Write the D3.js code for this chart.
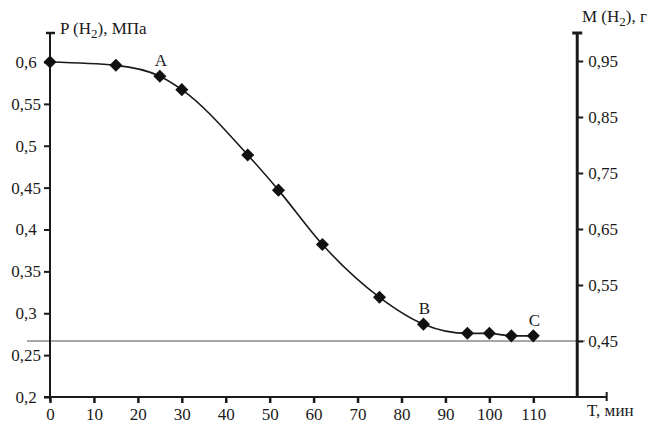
<!DOCTYPE html>
<html><head><meta charset="utf-8">
<script src="https://cdn.jsdelivr.net/npm/d3@7/dist/d3.min.js"></script>
<style>
html,body{margin:0;padding:0;background:#fff;}
</style></head>
<body><svg id="c" width="650" height="428"></svg>
<script>
// ---- data ----
const times = [0, 15, 25, 30, 45, 52, 62, 75, 85, 95, 100, 105, 110];
const pressure = [0.600, 0.596, 0.583, 0.567, 0.489, 0.447, 0.382, 0.319, 0.287, 0.276, 0.276, 0.273, 0.273];
const pointLabels = [{t: 25, text: "A"}, {t: 85, text: "B"}, {t: 110, text: "C"}];
const xTicks = [0, 10, 20, 30, 40, 50, 60, 70, 80, 90, 100, 110];
const leftTicks = [0.2, 0.25, 0.3, 0.35, 0.4, 0.45, 0.5, 0.55, 0.6];
const rightTicks = [0.45, 0.55, 0.65, 0.75, 0.85, 0.95];
const refMass = 0.45;
const leftTitle = ["P (H", "2", "), МПа"];
const rightTitle = ["M (H", "2", "), г"];
const xTitle = "T, мин";

const FONT = "'Liberation Serif', 'Times New Roman', 'DejaVu Serif', serif";
const FS = 17;
const svg = d3.select("#c");
const x = d3.scaleLinear().domain([0, 110]).range([50, 533.3]);
const yL = d3.scaleLinear().domain([0.2, 0.6]).range([397, 62]);
const yR = d3.scaleLinear().domain([0.35, 1.0]).range([397, 33]);
const fmt = d => String(+d.toFixed(2)).replace(".", ",");
const ink = "#1a1a1a";

// reference horizontal line
svg.append("line").attr("x1", 27).attr("x2", 585)
  .attr("y1", yR(refMass)).attr("y2", yR(refMass))
  .attr("stroke", "#8a8a8a").attr("stroke-width", 1.5);

// left axis
const gL = svg.append("g").attr("transform", `translate(${x(0)},0)`)
  .call(d3.axisLeft(yL).tickValues(leftTicks).tickSize(6).tickFormat(fmt));
gL.select(".domain").remove();
gL.selectAll(".tick line").attr("stroke", ink).attr("stroke-width", 2);
gL.selectAll(".tick text").attr("x", -24).attr("text-anchor", "middle");
svg.append("line").attr("x1", x(0)).attr("x2", x(0)).attr("y1", yR(1.0)).attr("y2", 401)
  .attr("stroke", ink).attr("stroke-width", 2);
svg.append("line").attr("x1", x(0) - 4).attr("x2", x(0) + 5).attr("y1", yR(1.0)).attr("y2", yR(1.0))
  .attr("stroke", ink).attr("stroke-width", 2.5);

// right axis
const xr = x(120);
const gR = svg.append("g").attr("transform", `translate(${xr},0)`)
  .call(d3.axisRight(yR).tickValues(rightTicks).tickSize(6).tickPadding(5).tickFormat(fmt));
gR.select(".domain").remove();
gR.selectAll(".tick line").attr("stroke", ink).attr("stroke-width", 2);
svg.append("line").attr("x1", xr).attr("x2", xr).attr("y1", yR(1.0)).attr("y2", 397)
  .attr("stroke", ink).attr("stroke-width", 3);
svg.append("line").attr("x1", xr - 5).attr("x2", xr + 5).attr("y1", yR(1.0)).attr("y2", yR(1.0))
  .attr("stroke", ink).attr("stroke-width", 3);

// bottom axis
const gB = svg.append("g").attr("transform", `translate(0,${yL(0.2)})`)
  .call(d3.axisBottom(x).tickValues(xTicks).tickSize(6).tickFormat(d3.format("d")));
gB.select(".domain").remove();
gB.selectAll(".tick line").attr("stroke", ink).attr("stroke-width", 2.5).attr("y1", 0);
gB.selectAll(".tick text").attr("y", 23).attr("dy", 0);
svg.append("line").attr("x1", x(0) - 6).attr("x2", x(126.7)).attr("y1", yL(0.2)).attr("y2", yL(0.2))
  .attr("stroke", ink).attr("stroke-width", 2);
svg.append("line").attr("x1", x(126.7)).attr("x2", x(126.7)).attr("y1", yL(0.2) - 5).attr("y2", yL(0.2) + 4)
  .attr("stroke", ink).attr("stroke-width", 2);

[gL, gR, gB].forEach(g => g.attr("font-family", FONT).attr("font-size", FS));

// titles
function title(parts, tx, ty) {
  const t = svg.append("text").attr("x", tx).attr("y", ty);
  t.append("tspan").text(parts[0]);
  t.append("tspan").attr("dy", 4).attr("font-size", 13).text(parts[1]);
  t.append("tspan").attr("dy", -4).text(parts[2]);
}
title(leftTitle, 60, 34);
title(rightTitle, 582, 22);
svg.append("text").attr("x", 587).attr("y", 416).text(xTitle);

// curve
const pts = times.map((t, i) => [t, pressure[i]]);
svg.append("path").datum(pts)
  .attr("d", d3.line().x(d => x(d[0])).y(d => yL(d[1])).curve(d3.curveMonotoneX))
  .attr("fill", "none").attr("stroke", ink).attr("stroke-width", 1.6);

// markers
svg.selectAll(".m").data(pts).enter().append("path")
  .attr("class", "m")
  .attr("d", d3.symbol(d3.symbolSquare, 85)())
  .attr("transform", d => `translate(${x(d[0])},${yL(d[1])}) rotate(45)`)
  .attr("fill", "#111");

// point labels
svg.selectAll(".pl").data(pointLabels).enter().append("text")
  .attr("x", d => x(d.t) + 1)
  .attr("y", d => yL(pressure[times.indexOf(d.t)]) - 10)
  .attr("text-anchor", "middle").text(d => d.text);

svg.selectAll("text").attr("font-family", FONT).attr("fill", ink);
svg.selectAll("text").filter(function(){ return !this.closest(".tick") && !this.closest("tspan"); })
  .attr("font-size", FS);
</script></body></html>
